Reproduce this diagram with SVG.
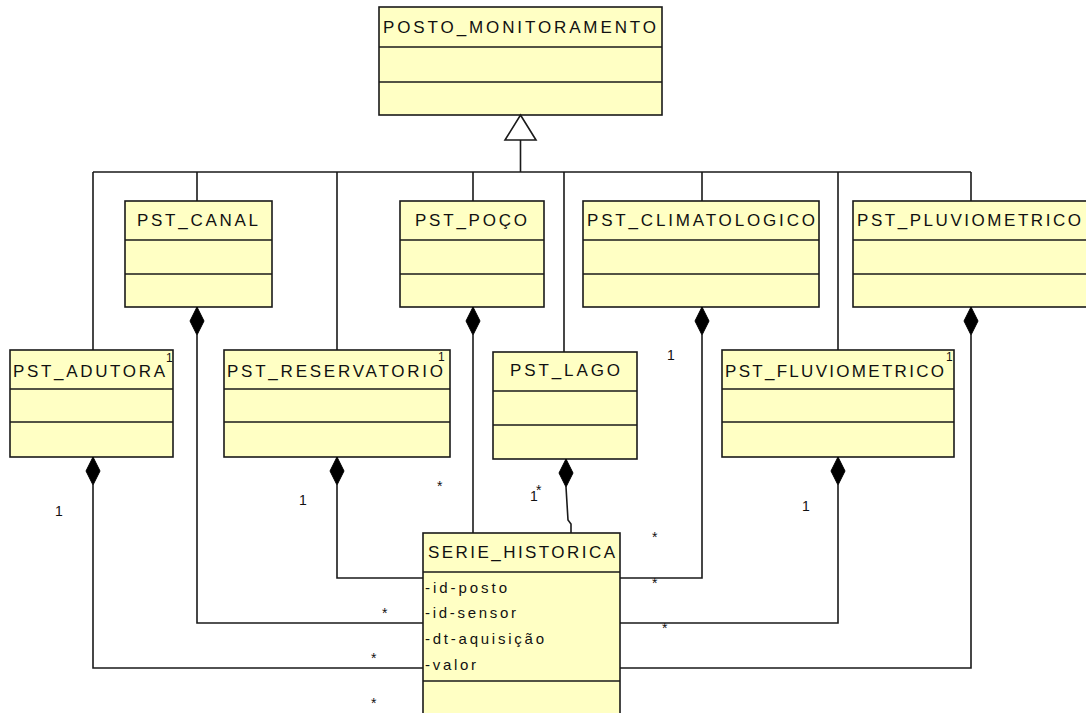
<svg xmlns="http://www.w3.org/2000/svg" width="1086" height="713" viewBox="0 0 1086 713">
<style>
.box{fill:#FFFFC4;stroke:#1a1a1a;stroke-width:1.6}
.div{stroke:#1a1a1a;stroke-width:1.6}
.t{font-family:"Liberation Sans",Arial,sans-serif;font-size:17px;fill:#111}
.a{font-family:"Liberation Sans",Arial,sans-serif;font-size:15px;fill:#111}
.m{font-family:"Liberation Sans",Arial,sans-serif;font-size:14px;fill:#111}
.s{font-family:"Liberation Sans",Arial,sans-serif;font-size:12px;fill:#111}
.c{fill:none;stroke:#1a1a1a;stroke-width:1.6}
.d{fill:#000;stroke:#000;stroke-width:1}
</style>
<defs>
<path id="dia" class="d" d="M0,0 L7,14 L0,28 L-7,14 Z"/>
</defs>
<rect width="1086" height="713" fill="#fff"/>
<g id="posto_monitoramento">
<rect class="box" x="379" y="7" width="283" height="108"/>
<line class="div" x1="379" y1="47" x2="662" y2="47"/>
<line class="div" x1="379" y1="82" x2="662" y2="82"/>
<text class="t" x="383" y="33" textLength="273" lengthAdjust="spacing">POSTO_MONITORAMENTO</text>
</g>
<g id="pst_canal">
<rect class="box" x="125" y="201" width="147" height="106"/>
<line class="div" x1="125" y1="240" x2="272" y2="240"/>
<line class="div" x1="125" y1="274" x2="272" y2="274"/>
<text class="t" x="137" y="226" textLength="121" lengthAdjust="spacing">PST_CANAL</text>
</g>
<g id="pst_poco">
<rect class="box" x="400" y="201" width="144" height="106"/>
<line class="div" x1="400" y1="240" x2="544" y2="240"/>
<line class="div" x1="400" y1="274" x2="544" y2="274"/>
<text class="t" x="415" y="226" textLength="112" lengthAdjust="spacing">PST_POÇO</text>
</g>
<g id="pst_climatologico">
<rect class="box" x="583" y="201" width="236" height="106"/>
<line class="div" x1="583" y1="240" x2="819" y2="240"/>
<line class="div" x1="583" y1="274" x2="819" y2="274"/>
<text class="t" x="587" y="226" textLength="228" lengthAdjust="spacing">PST_CLIMATOLOGICO</text>
</g>
<g id="pst_pluviometrico">
<rect class="box" x="853" y="201" width="240" height="106"/>
<line class="div" x1="853" y1="240" x2="1093" y2="240"/>
<line class="div" x1="853" y1="274" x2="1093" y2="274"/>
<text class="t" x="857" y="226" textLength="224" lengthAdjust="spacing">PST_PLUVIOMETRICO</text>
</g>
<g id="pst_adutora">
<rect class="box" x="10" y="350" width="163" height="107"/>
<line class="div" x1="10" y1="389" x2="173" y2="389"/>
<line class="div" x1="10" y1="422" x2="173" y2="422"/>
<text class="t" x="13" y="377" textLength="152" lengthAdjust="spacing">PST_ADUTORA</text>
</g>
<g id="pst_reservatorio">
<rect class="box" x="224" y="350" width="226" height="107"/>
<line class="div" x1="224" y1="389" x2="450" y2="389"/>
<line class="div" x1="224" y1="422" x2="450" y2="422"/>
<text class="t" x="227" y="377" textLength="216" lengthAdjust="spacing">PST_RESERVATORIO</text>
</g>
<g id="pst_lago">
<rect class="box" x="493" y="352" width="144" height="107"/>
<line class="div" x1="493" y1="391" x2="637" y2="391"/>
<line class="div" x1="493" y1="425" x2="637" y2="425"/>
<text class="t" x="510" y="376" textLength="110" lengthAdjust="spacing">PST_LAGO</text>
</g>
<g id="pst_fluviometrico">
<rect class="box" x="722" y="350" width="232" height="107"/>
<line class="div" x1="722" y1="389" x2="954" y2="389"/>
<line class="div" x1="722" y1="422" x2="954" y2="422"/>
<text class="t" x="725" y="377" textLength="219" lengthAdjust="spacing">PST_FLUVIOMETRICO</text>
</g>
<g id="serie_historica">
<rect class="box" x="423" y="533" width="197" height="190"/>
<line class="div" x1="423" y1="572" x2="620" y2="572"/>
<line class="div" x1="423" y1="681" x2="620" y2="681"/>
<text class="t" x="428" y="558" textLength="187" lengthAdjust="spacing">SERIE_HISTORICA</text>
<text class="a" x="425" y="593" textLength="82" lengthAdjust="spacing">-id-posto</text>
<text class="a" x="425" y="618" textLength="91" lengthAdjust="spacing">-id-sensor</text>
<text class="a" x="425" y="644" textLength="119" lengthAdjust="spacing">-dt-aquisição</text>
<text class="a" x="425" y="670" textLength="51" lengthAdjust="spacing">-valor</text>
</g>
<g id="connectors">
<polygon points="520.5,115 536,140 505,140" fill="#fff" stroke="#1a1a1a" stroke-width="1.6"/>
<path class="c" d="M520.5,140 V172 M93,172 H971 M93,172 V350 M197,172 V201 M337,172 V350 M473,172 V201 M564,172 V352 M702,172 V201 M838,172 V350 M971,172 V201"/>
<path class="c" d="M93,485 V668 H423"/>
<path class="c" d="M197,335 V623 H423"/>
<path class="c" d="M337,485 V578 H423"/>
<path class="c" d="M473,335 V533"/>
<path class="c" d="M566,487 L568,520 L571,524 V533"/>
<path class="c" d="M702,335 V578 H620"/>
<path class="c" d="M838,485 V623 H620"/>
<path class="c" d="M971,335 V668 H620"/>
<use href="#dia" x="93" y="457"/>
<use href="#dia" x="197" y="307"/>
<use href="#dia" x="337" y="457"/>
<use href="#dia" x="473" y="307"/>
<use href="#dia" x="566" y="459"/>
<use href="#dia" x="702" y="307"/>
<use href="#dia" x="838" y="457"/>
<use href="#dia" x="971" y="307"/>
<text class="s" x="166" y="362">1</text>
<text class="s" x="438" y="361">1</text>
<text class="s" x="946" y="361">1</text>
<text class="m" x="667" y="360">1</text>
<text class="m" x="55" y="516">1</text>
<text class="m" x="299" y="505">1</text>
<text class="m" x="530" y="501">1</text>
<text class="m" x="536" y="495">*</text>
<text class="m" x="802" y="511">1</text>
<text class="m" x="437" y="491">*</text>
<text class="m" x="382" y="618">*</text>
<text class="m" x="371" y="663">*</text>
<text class="m" x="371" y="708">*</text>
<text class="m" x="652" y="542">*</text>
<text class="m" x="652" y="588">*</text>
<text class="m" x="662" y="633">*</text>
</g>
</svg>
